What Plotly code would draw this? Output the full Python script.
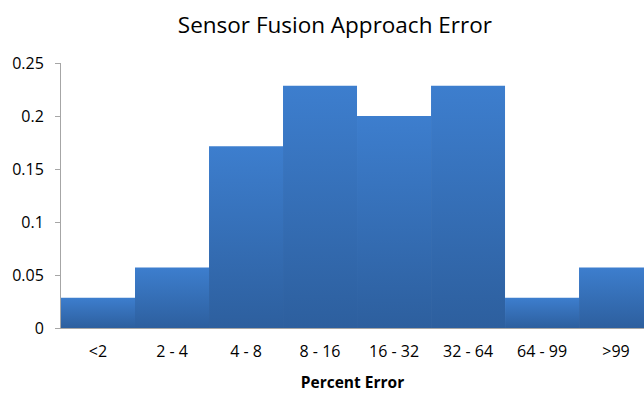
import plotly.graph_objects as go

categories = ["<2", "2 - 4", "4 - 8", "8 - 16", "16 - 32", "32 - 64", "64 - 99", ">99"]
values = [0.0286, 0.0571, 0.1714, 0.2286, 0.2000, 0.2286, 0.0286, 0.0571]
y_ticks = [0, 0.05, 0.1, 0.15, 0.2, 0.25]
y_labels = ["0", "0.05", "0.1", "0.15", "0.2", "0.25"]

TOP = "rgb(61,126,206)"
BOTTOM = "rgb(45,95,158)"

fig = go.Figure()
for i, (c, v) in enumerate(zip(categories, values)):
    xs = [i - 0.5, i - 0.5, i + 0.5, i + 0.5, i - 0.5]
    ys = [0, v, v, 0, 0]
    fig.add_trace(go.Scatter(
        x=xs, y=ys, mode="lines", fill="toself",
        line=dict(width=0, color=TOP),
        fillgradient=dict(type="vertical", colorscale=[[0, BOTTOM], [1, TOP]]),
        name=c, showlegend=False, hoverinfo="text", text=f"{c}: {v}",
    ))

fig.update_layout(
    width=644, height=393,
    margin=dict(l=61, r=0, t=63, b=65),
    paper_bgcolor="white", plot_bgcolor="white",
    font=dict(family="Open Sans, Liberation Sans, sans-serif", color="black"),
    title=dict(text="Sensor Fusion Approach Error", x=0.52, xanchor="center",
               y=0.935, yanchor="middle",
               font=dict(size=22.5, color="black")),
    xaxis=dict(
        range=[-0.5, 7.378], tickmode="array", tickvals=list(range(len(categories))),
        ticktext=categories, showgrid=False, zeroline=False,
        showline=True, linecolor="#a6a6a6", linewidth=1, ticks="",
        tickfont=dict(size=16), ticklabelstandoff=9,
        title=dict(text="<b>Percent Error</b>", font=dict(size=15.5), standoff=15),
    ),
    yaxis=dict(
        range=[0, 0.25], tickmode="array", tickvals=y_ticks, ticktext=y_labels,
        showgrid=False, zeroline=False, showline=True, linecolor="#a6a6a6",
        linewidth=1, ticks="outside", ticklen=5, tickcolor="#a6a6a6",
        tickfont=dict(size=16), ticklabelstandoff=8,
    ),
)

fig.write_html("out.html")
